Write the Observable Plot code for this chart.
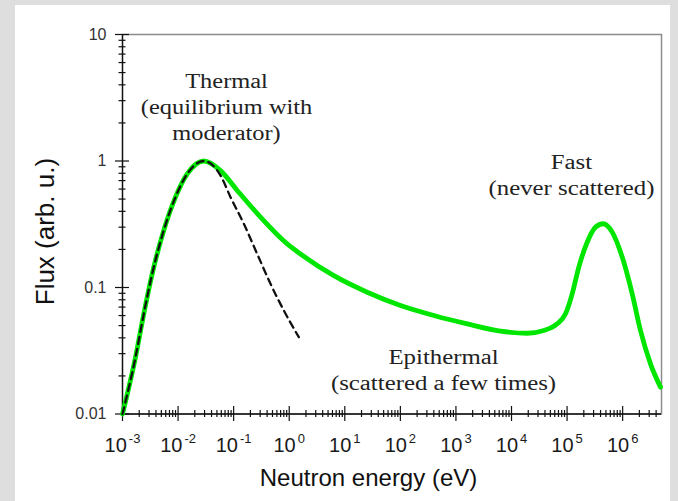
<!DOCTYPE html>
<html><head><meta charset="utf-8">
<script src="https://cdn.jsdelivr.net/npm/d3@7"></script>
<script src="https://cdn.jsdelivr.net/npm/@observablehq/plot@0.6"></script>
<style>
html,body{margin:0;padding:0;background:#dedede;width:678px;height:501px;overflow:hidden;}
#panel{position:absolute;left:15px;top:5px;width:655px;height:496px;background:#fff;}
#chart{position:absolute;left:0;top:0;}
</style></head><body><div id="panel"></div><div id="chart"></div>
<script>
// Total flux (green) — energy (eV) and flux (arb. u.)
const totalEnergy = [0.001, 0.001714, 0.002415, 0.00342, 0.00553, 0.00899, 0.01459, 0.02904, 0.0581, 0.1159, 0.304, 0.920, 1.596, 6.35, 25.3, 100.7, 400, 1596, 6339, 19190, 38190, 66370, 93760, 123600, 162600, 230100, 325100, 446700, 648600, 981700, 1486000, 2094000, 3170000, 4797000];
const totalFlux   = [0.01, 0.0281, 0.0619, 0.128, 0.283, 0.518, 0.79, 1.0, 0.84, 0.585, 0.36, 0.221, 0.184, 0.124, 0.0918, 0.0721, 0.0601, 0.0516, 0.0452, 0.0435, 0.0457, 0.0516, 0.0619, 0.0891, 0.145, 0.228, 0.30, 0.319, 0.274, 0.174, 0.0891, 0.0457, 0.0249, 0.0163];
// Maxwellian (dashed)
const maxwellEnergy = [0.001, 0.001714, 0.002415, 0.00342, 0.00553, 0.00899, 0.01459, 0.02904, 0.0581, 0.0879, 0.1524, 0.2655, 0.460, 0.800, 1.489];
const maxwellFlux   = [0.01, 0.0281, 0.0619, 0.128, 0.283, 0.518, 0.79, 1.0, 0.767, 0.518, 0.319, 0.184, 0.107, 0.0658, 0.0405];

const xMajor = [1e-3, 1e-2, 1e-1, 1, 10, 100, 1e3, 1e4, 1e5, 1e6];
const xTickText = ["10^-3", "10^-2", "10^-1", "10^0", "10^1", "10^2", "10^3", "10^4", "10^5", "10^6"];
const yMajor = [0.01, 0.1, 1, 10];
const yTickText = ["0.01", "0.1", "1", "10"];
const minorMultipliers = [2, 3, 4, 5, 6, 7, 8, 9];

const annotations = [
  {energy: 0.0745, flux: 2.75, text: "Thermal\n(equilibrium with\nmoderator)"},
  {energy: 1.2e5, flux: 0.80, text: "Fast\n(never scattered)"},
  {energy: 598, flux: 0.0227, text: "Epithermal\n(scattered a few times)"}
];
const annotationStretch = [1.22, 1.24, 1.24];
const xTitle = "Neutron energy (eV)";
const yTitle = "Flux (arb. u.)";

const xDomain = [1e-3, 5e6];
const yDomain = [0.01, 10];

const xMinor = [];
xMajor.forEach(m => minorMultipliers.forEach(k => { const v = m * k; if (v < xDomain[1]) xMinor.push(v); }));
const yMinor = [];
yMajor.slice(0, -1).forEach(m => minorMultipliers.forEach(k => yMinor.push(m * k)));

const total = totalEnergy.map((e, i) => ({e, f: totalFlux[i]}));
const maxwell = maxwellEnergy.map((e, i) => ({e, f: maxwellFlux[i]}));

const chart = Plot.plot({
  width: 678, height: 501,
  marginLeft: 122, marginRight: 17, marginTop: 34, marginBottom: 87.5,
  x: {type: "log", domain: xDomain, axis: null},
  y: {type: "log", domain: yDomain, axis: null},
  style: {background: "transparent", fontFamily: "'Liberation Sans', Arial, sans-serif", color: "#111"},
  marks: [
    Plot.frame({stroke: "#8c8c8c", strokeWidth: 1.5}),
    Plot.ruleX([xDomain[0]], {stroke: "#111", strokeWidth: 1.3}),
    Plot.ruleY([yDomain[0]], {stroke: "#111", strokeWidth: 1.3}),
    // ticks crossing the axes
    Plot.axisX({ticks: xMajor, anchor: "bottom", tickSize: 15, dy: -7.5, fill: "none", stroke: "#111", strokeWidth: 1.2, label: null}),
    Plot.axisX({ticks: xMinor, anchor: "bottom", tickSize: 7, dy: -3.5, fill: "none", stroke: "#111", strokeWidth: 1.2, label: null}),
    Plot.axisY({ticks: yMajor, anchor: "left", tickSize: 14, dx: 7, fill: "none", stroke: "#111", strokeWidth: 1.2, label: null}),
    Plot.axisY({ticks: yMinor, anchor: "left", tickSize: 7, dx: 3.5, fill: "none", stroke: "#111", strokeWidth: 1.2, label: null}),
    // tick labels
    Plot.axisX({ticks: xMajor, anchor: "bottom", tickSize: 0, tickPadding: 24, fontSize: 20, fill: "#1a1a1a",
      tickFormat: d => xTickText[xMajor.indexOf(d)], label: null}),
    Plot.axisY({ticks: yMajor, anchor: "left", tickSize: 0, tickPadding: 16, fontSize: 16, fill: "#333",
      tickFormat: d => yTickText[yMajor.indexOf(d)], label: null}),
    // curves
    Plot.line(total, {x: "e", y: "f", stroke: "#00e600", strokeWidth: 4.8, curve: "monotone-x"}),
    Plot.line(maxwell, {x: "e", y: "f", stroke: "#111", strokeWidth: 2.3, strokeDasharray: "7,5", curve: "monotone-x"}),
    // annotations
    Plot.text(annotations, {x: "energy", y: "flux", text: "text", fontFamily: "'Liberation Serif', 'Times New Roman', serif",
      fontSize: 20, lineHeight: 1.3, fill: "#222"}),
    // axis titles
    Plot.text([xTitle], {frameAnchor: "bottom", dy: 72, dx: -23.5, fontSize: 24, fill: "#111"}),
    Plot.text([yTitle], {frameAnchor: "left", rotate: -90, dx: -77, dy: 81, fontSize: 26, fill: "#111"})
  ]
});
document.getElementById("chart").appendChild(chart);
const svg = chart;

// superscripts for x tick labels
svg.querySelectorAll('g[aria-label="x-axis tick label"] text').forEach(t => {
  const s = t.textContent;
  if (!s.includes("^")) return;
  const [base, exp] = s.split("^");
  t.textContent = base;
  const sup = document.createElementNS("http://www.w3.org/2000/svg", "tspan");
  sup.setAttribute("dy", "-0.7em");
  sup.setAttribute("dx", "2");
  sup.setAttribute("font-size", "13");
  sup.textContent = exp;
  t.appendChild(sup);
});

// horizontal stretch of the serif annotations (reference glyphs are wide)
const serifTexts = [];
svg.querySelectorAll("g").forEach(g => {
  const ff = g.getAttribute("font-family") || "";
  if (ff.includes("Serif")) g.querySelectorAll(":scope > text").forEach(t => serifTexts.push(t));
});
serifTexts.forEach((t, i) => {
  const k = annotationStretch[i] ?? 1;
  if (k === 1) return;
  const spans = t.querySelectorAll("tspan");
  const els = spans.length ? Array.from(spans) : [t];
  els.forEach(e => {
    const L = e.getComputedTextLength();
    e.setAttribute("textLength", (L * k).toFixed(1));
    e.setAttribute("lengthAdjust", "spacingAndGlyphs");
  });
});
</script></body></html>
